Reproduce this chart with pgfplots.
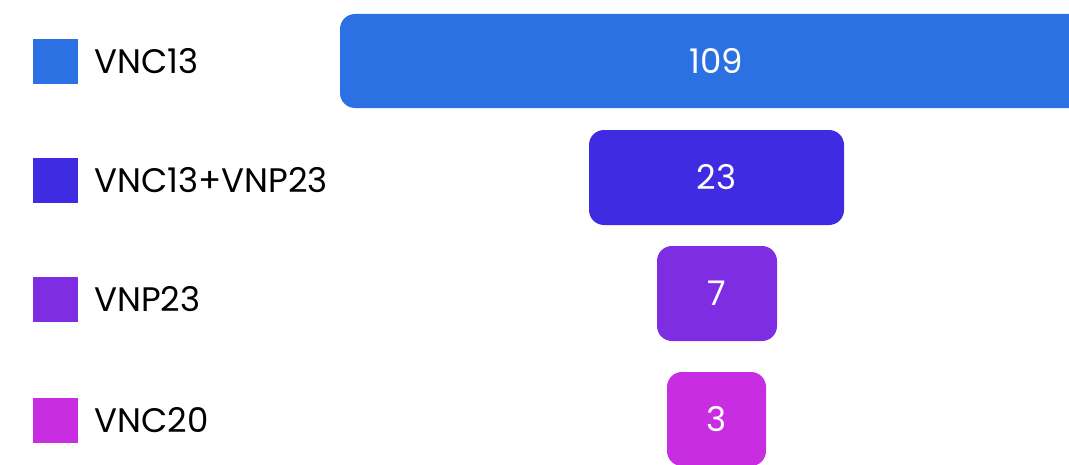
\documentclass[border=0pt]{standalone}
\usepackage{pgfplots}
\pgfplotsset{compat=1.18}
\usepackage{fontspec}
\setmainfont{Poppins}
\definecolor{cA}{HTML}{2B71E3}
\definecolor{cB}{HTML}{3F2CE2}
\definecolor{cC}{HTML}{7E2DE3}
\definecolor{cD}{HTML}{C82DE2}
\tikzset{lab/.style={inner sep=0pt, font=\fontsize{17}{20}\selectfont}}
\begin{document}
\begin{tikzpicture}
\path[use as bounding box] (0,0) rectangle (534.5pt,232.5pt);
\begin{axis}[
  width=534.5pt, height=232.5pt, scale only axis,
  xmin=0, xmax=1069, ymin=0, ymax=465, y dir=reverse,
  hide axis, clip=true,
]
% funnel bars (x = left/right edge, y = top/bottom), values 109, 23, 7, 3
\addplot[fill=cA, draw=none, rounded corners=7.5pt] coordinates {(340,14) (1093,14) (1093,108) (340,108)} -- cycle;
\addplot[fill=cB, draw=none, rounded corners=7.5pt] coordinates {(589,130) (844,130) (844,225) (589,225)} -- cycle;
\addplot[fill=cC, draw=none, rounded corners=7.5pt] coordinates {(657,246) (777,246) (777,341) (657,341)} -- cycle;
\addplot[fill=cD, draw=none, rounded corners=7.5pt] coordinates {(667,372) (766,372) (766,466) (667,466)} -- cycle;
% legend squares
\addplot[only marks, mark=square*, mark size=11pt, color=cA] coordinates {(55,61)};
\addplot[only marks, mark=square*, mark size=11pt, color=cB] coordinates {(55,180.5)};
\addplot[only marks, mark=square*, mark size=11pt, color=cC] coordinates {(55,299)};
\addplot[only marks, mark=square*, mark size=11pt, color=cD] coordinates {(55,420)};
\node[lab, anchor=west] at (axis cs:94,61) {VNC13};
\node[lab, anchor=west] at (axis cs:94,180.5) {VNC13+VNP23};
\node[lab, anchor=west] at (axis cs:94,299) {VNP23};
\node[lab, anchor=west] at (axis cs:94,420) {VNC20};
\node[lab, white] at (axis cs:716.5,61) {109};
\node[lab, white] at (axis cs:716.5,177.5) {23};
\node[lab, white] at (axis cs:716.5,293.5) {7};
\node[lab, white] at (axis cs:716.5,419) {3};
\end{axis}
\end{tikzpicture}
\end{document}
